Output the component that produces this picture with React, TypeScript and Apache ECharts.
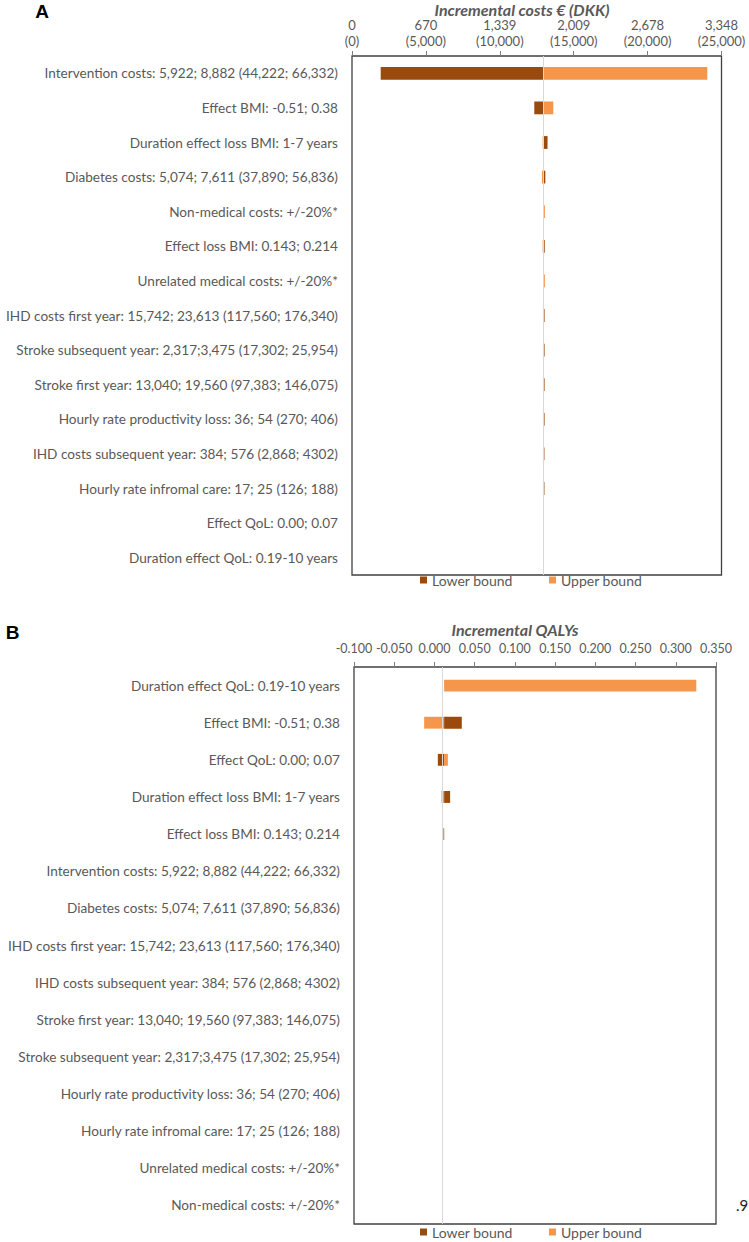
import React, { useEffect, useRef } from 'react';
import * as echarts from 'echarts';

// Panel A: incremental costs, x axis in DKK with EUR on top line
const costCategories = [
  'Intervention costs: 5,922; 8,882 (44,222; 66,332)',
  'Effect BMI: -0.51; 0.38',
  'Duration effect loss BMI: 1-7 years',
  'Diabetes costs: 5,074; 7,611 (37,890; 56,836)',
  'Non-medical costs: +/-20%*',
  'Effect loss BMI: 0.143; 0.214',
  'Unrelated medical costs: +/-20%*',
  'IHD costs first year: 15,742; 23,613 (117,560; 176,340)',
  'Stroke subsequent year: 2,317;3,475 (17,302; 25,954)',
  'Stroke first year: 13,040; 19,560 (97,383; 146,075)',
  'Hourly rate productivity loss: 36; 54 (270; 406)',
  'IHD costs subsequent year: 384; 576 (2,868; 4302)',
  'Hourly rate infromal care: 17; 25 (126; 188)',
  'Effect QoL: 0.00; 0.07',
  'Duration effect QoL: 0.19-10 years',
];
const costBase = 12940;
const costLower = [1942, 12334, 13230, 13080, 12930, 13040, 12930, 13030, 13030, 13030, 13030, 13020, 13020, 12940, 12940];
const costUpper = [24039, 13620, 12900, 12850, 13050, 12900, 13050, 12920, 12920, 12920, 12920, 12920, 12920, 12940, 12940];
const costTickEur = ['0', '670', '1,339', '2,009', '2,678', '3,348'];
const costTickDkk = ['(0)', '(5,000)', '(10,000)', '(15,000)', '(20,000)', '(25,000)'];

// Panel B: incremental QALYs
const qalyCategories = [
  'Duration effect QoL: 0.19-10 years',
  'Effect BMI: -0.51; 0.38',
  'Effect QoL: 0.00; 0.07',
  'Duration effect loss BMI: 1-7 years',
  'Effect loss BMI: 0.143; 0.214',
  'Intervention costs: 5,922; 8,882 (44,222; 66,332)',
  'Diabetes costs: 5,074; 7,611 (37,890; 56,836)',
  'IHD costs first year: 15,742; 23,613 (117,560; 176,340)',
  'IHD costs subsequent year: 384; 576 (2,868; 4302)',
  'Stroke first year: 13,040; 19,560 (97,383; 146,075)',
  'Stroke subsequent year: 2,317;3,475 (17,302; 25,954)',
  'Hourly rate productivity loss: 36; 54 (270; 406)',
  'Hourly rate infromal care: 17; 25 (126; 188)',
  'Unrelated medical costs: +/-20%*',
  'Non-medical costs: +/-20%*',
];
const qalyBase = 0.012;
const qalyLower = [0.012, 0.034, 0.0042, 0.0195, 0.0122, 0.012, 0.012, 0.012, 0.012, 0.012, 0.012, 0.012, 0.012, 0.012, 0.012];
const qalyUpper = [0.3255, -0.0128, 0.0167, 0.0087, 0.0098, 0.012, 0.012, 0.012, 0.012, 0.012, 0.012, 0.012, 0.012, 0.012, 0.012];
const qalyTicks = ['-0.100', '-0.050', '0.000', '0.050', '0.100', '0.150', '0.200', '0.250', '0.300', '0.350'];

const DARK = '#9a4a0c';
const LIGHT = '#f6964a';
const GREY = '#595959';
const FONT = 'Lato, "Noto Sans", sans-serif';

const rowData = (values: number[], base: number) => values.map((v, i) => [i, v, base]);

// rectangle from the base case value to the bound value
const renderBar = (ratio: number) => (params: any, api: any) => {
  const cat = api.value(0);
  const start = api.coord([api.value(2), cat]);
  const end = api.coord([api.value(1), cat]);
  const h = api.size([0, 1])[1] * ratio;
  return {
    type: 'rect',
    shape: {
      x: Math.min(start[0], end[0]),
      y: start[1] - h / 2,
      width: Math.abs(end[0] - start[0]),
      height: h,
    },
    style: api.style(),
  };
};

const baseLine = (value: number) => ({
  silent: true,
  symbol: ['none', 'none'],
  label: { show: false },
  lineStyle: { color: '#d9d9d9', type: 'solid', width: 1 },
  data: [{ xAxis: value }],
});

const legendCommon = {
  icon: 'rect',
  itemWidth: 7,
  itemHeight: 7,
  itemGap: 0,
  padding: 0,
  selectedMode: false,
  textStyle: { color: GREY, fontSize: 14, fontFamily: FONT },
};

const catAxisLabel = { color: GREY, fontSize: 13.6, fontFamily: FONT, margin: 14 };

export default function App() {
  const chartRef = useRef<HTMLDivElement>(null);

  useEffect(() => {
    if (!chartRef.current) return;
    const chart = echarts.init(chartRef.current, undefined, { renderer: 'svg' });

    chart.setOption({
      animation: false,
      textStyle: { fontFamily: FONT },
      grid: [
        { left: 352, top: 56, width: 369.5, height: 519, show: true, borderColor: '#404040', borderWidth: 1.3 },
        { left: 354, top: 667, width: 362, height: 557, show: true, borderColor: '#404040', borderWidth: 1.3 },
      ],
      xAxis: [
        {
          type: 'value',
          gridIndex: 0,
          position: 'top',
          min: 0,
          max: 25000,
          interval: 5000,
          splitLine: { show: false },
          axisLine: { show: false },
          axisTick: { show: true, length: 5, lineStyle: { color: '#7f7f7f' } },
          axisLabel: {
            color: GREY,
            fontSize: 13,
            fontFamily: FONT,
            lineHeight: 16,
            margin: 7,
            formatter: (v: number) => {
              const i = Math.round(v / 5000);
              return costTickEur[i] + '\n' + costTickDkk[i];
            },
          },
        },
        {
          type: 'value',
          gridIndex: 1,
          position: 'top',
          min: -0.1,
          max: 0.35,
          interval: 0.05,
          splitLine: { show: false },
          axisLine: { show: false },
          axisTick: { show: true, length: 5, lineStyle: { color: '#7f7f7f' } },
          axisLabel: {
            color: GREY,
            fontSize: 12.5,
            fontFamily: FONT,
            margin: 12,
            formatter: (v: number) => qalyTicks[Math.round((v + 0.1) / 0.05)],
          },
        },
      ],
      yAxis: [
        {
          type: 'category',
          gridIndex: 0,
          data: costCategories,
          inverse: true,
          axisLine: { show: false },
          axisTick: { show: false },
          axisLabel: catAxisLabel,
        },
        {
          type: 'category',
          gridIndex: 1,
          data: qalyCategories,
          inverse: true,
          axisLine: { show: false },
          axisTick: { show: false },
          axisLabel: catAxisLabel,
        },
      ],
      legend: [
        { ...legendCommon, data: ['Lower bound'], left: 420, top: 573 },
        { ...legendCommon, data: ['Upper bound'], left: 549, top: 573 },
        { ...legendCommon, data: ['Lower bound'], left: 420, top: 1225 },
        { ...legendCommon, data: ['Upper bound'], left: 549, top: 1225 },
      ],
      series: [
        {
          type: 'custom',
          name: 'Lower bound',
          xAxisIndex: 0,
          yAxisIndex: 0,
          encode: { x: [1, 2], y: 0 },
          itemStyle: { color: DARK },
          renderItem: renderBar(0.37),
          data: rowData(costLower, costBase),
          markLine: baseLine(costBase),
        },
        {
          type: 'custom',
          name: 'Upper bound',
          xAxisIndex: 0,
          yAxisIndex: 0,
          encode: { x: [1, 2], y: 0 },
          itemStyle: { color: LIGHT },
          renderItem: renderBar(0.37),
          data: rowData(costUpper, costBase),
        },
        {
          type: 'custom',
          name: 'Lower bound',
          xAxisIndex: 1,
          yAxisIndex: 1,
          encode: { x: [1, 2], y: 0 },
          itemStyle: { color: DARK },
          renderItem: renderBar(0.32),
          data: rowData(qalyLower, qalyBase),
          markLine: baseLine(qalyBase),
        },
        {
          type: 'custom',
          name: 'Upper bound',
          xAxisIndex: 1,
          yAxisIndex: 1,
          encode: { x: [1, 2], y: 0 },
          itemStyle: { color: LIGHT },
          renderItem: renderBar(0.32),
          data: rowData(qalyUpper, qalyBase),
        },
      ],
      graphic: [
        {
          type: 'text',
          x: 42,
          y: 11,
          style: { text: 'A', fill: '#000', font: 'bold 19px "Liberation Sans", Arial, sans-serif', textAlign: 'center', textVerticalAlign: 'middle' },
        },
        {
          type: 'text',
          x: 12.5,
          y: 632,
          style: { text: 'B', fill: '#000', font: 'bold 19px "Liberation Sans", Arial, sans-serif', textAlign: 'center', textVerticalAlign: 'middle' },
        },
        {
          type: 'text',
          x: 522,
          y: 9,
          style: { text: 'Incremental costs € (DKK)', fill: GREY, font: 'italic bold 16px ' + FONT, textAlign: 'center', textVerticalAlign: 'middle' },
        },
        {
          type: 'text',
          x: 515,
          y: 629,
          style: { text: 'Incremental QALYs', fill: GREY, font: 'italic bold 16px ' + FONT, textAlign: 'center', textVerticalAlign: 'middle' },
        },
        {
          type: 'text',
          x: 742,
          y: 1205,
          style: { text: '.9', fill: '#222', font: '15px ' + FONT, textAlign: 'center', textVerticalAlign: 'middle' },
        },
      ],
    });

    return () => {
      chart.dispose();
    };
  }, []);

  return (
    <div
      ref={chartRef}
      style={{ position: 'absolute', left: 0, top: 0, width: 749, height: 1242, background: '#fff' }}
    />
  );
}
